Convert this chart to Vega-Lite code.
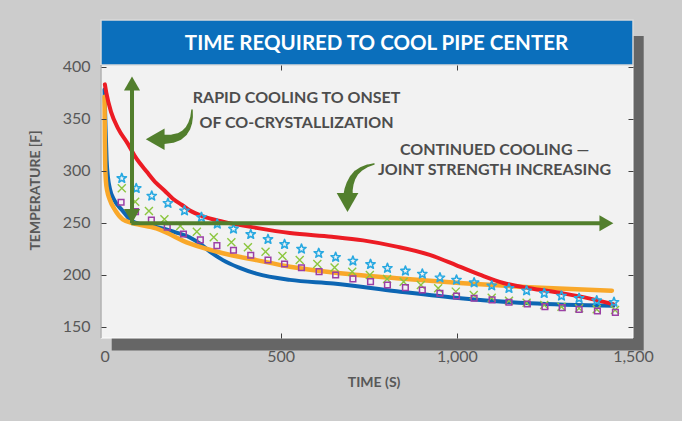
{
  "$schema": "https://vega.github.io/schema/vega-lite/v6.json",
  "width": 532,
  "height": 318,
  "autosize": {"type": "none"},
  "padding": {"left": 101, "top": 20, "right": 49, "bottom": 83},
  "background": "#cccccc",
  "config": {"view": {"stroke": null}, "font": "Lato"},
  "datasets": {
    "one": [{}],
    "lines": [
      {"s": "blue", "t": 0, "T": 378}, {"s": "blue", "t": 3, "T": 340}, {"s": "blue", "t": 6, "T": 310}, {"s": "blue", "t": 10, "T": 293}, {"s": "blue", "t": 15, "T": 283}, {"s": "blue", "t": 29, "T": 271}, {"s": "blue", "t": 50, "T": 262}, {"s": "blue", "t": 76, "T": 252}, {"s": "blue", "t": 110, "T": 248}, {"s": "blue", "t": 147, "T": 246}, {"s": "blue", "t": 200, "T": 241}, {"s": "blue", "t": 241, "T": 236}, {"s": "blue", "t": 270, "T": 230}, {"s": "blue", "t": 300, "T": 222}, {"s": "blue", "t": 336, "T": 214}, {"s": "blue", "t": 380, "T": 207}, {"s": "blue", "t": 431, "T": 201}, {"s": "blue", "t": 526, "T": 195}, {"s": "blue", "t": 650, "T": 191.5}, {"s": "blue", "t": 829, "T": 184}, {"s": "blue", "t": 1018, "T": 177}, {"s": "blue", "t": 1207, "T": 172.5}, {"s": "blue", "t": 1444, "T": 170},
      {"s": "orange", "t": 0, "T": 371}, {"s": "orange", "t": 1, "T": 330}, {"s": "orange", "t": 2, "T": 305}, {"s": "orange", "t": 4, "T": 290}, {"s": "orange", "t": 8, "T": 280}, {"s": "orange", "t": 14, "T": 273}, {"s": "orange", "t": 30, "T": 262}, {"s": "orange", "t": 52, "T": 253}, {"s": "orange", "t": 80, "T": 249.5}, {"s": "orange", "t": 147, "T": 244.5}, {"s": "orange", "t": 241, "T": 230}, {"s": "orange", "t": 336, "T": 220.6}, {"s": "orange", "t": 431, "T": 214}, {"s": "orange", "t": 526, "T": 207.7}, {"s": "orange", "t": 650, "T": 202}, {"s": "orange", "t": 829, "T": 196.5}, {"s": "orange", "t": 1018, "T": 191.7}, {"s": "orange", "t": 1207, "T": 188}, {"s": "orange", "t": 1440, "T": 184.6},
      {"s": "red", "t": 1, "T": 383}, {"s": "red", "t": 5, "T": 375}, {"s": "red", "t": 19, "T": 356}, {"s": "red", "t": 38, "T": 341}, {"s": "red", "t": 66, "T": 326}, {"s": "red", "t": 88, "T": 313}, {"s": "red", "t": 120, "T": 299}, {"s": "red", "t": 147, "T": 288}, {"s": "red", "t": 170, "T": 281}, {"s": "red", "t": 194, "T": 273}, {"s": "red", "t": 220, "T": 267}, {"s": "red", "t": 241, "T": 262}, {"s": "red", "t": 280, "T": 256}, {"s": "red", "t": 336, "T": 251}, {"s": "red", "t": 431, "T": 245}, {"s": "red", "t": 526, "T": 240}, {"s": "red", "t": 645, "T": 236.5}, {"s": "red", "t": 734, "T": 233}, {"s": "red", "t": 829, "T": 227}, {"s": "red", "t": 923, "T": 219}, {"s": "red", "t": 999, "T": 209}, {"s": "red", "t": 1065, "T": 200}, {"s": "red", "t": 1132, "T": 192}, {"s": "red", "t": 1207, "T": 187}, {"s": "red", "t": 1302, "T": 182}, {"s": "red", "t": 1378, "T": 177}, {"s": "red", "t": 1444, "T": 171.5}
    ],
    "markers": [
      {"m": "star", "t": 49, "T": 292.7}, {"m": "star", "t": 90, "T": 283}, {"m": "star", "t": 134, "T": 275.7}, {"m": "star", "t": 180, "T": 268.7}, {"m": "star", "t": 227, "T": 261.5}, {"m": "star", "t": 275, "T": 255.2}, {"m": "star", "t": 320, "T": 248.8}, {"m": "star", "t": 366, "T": 244}, {"m": "star", "t": 415, "T": 238.8}, {"m": "star", "t": 464, "T": 234}, {"m": "star", "t": 511, "T": 229.2}, {"m": "star", "t": 559, "T": 224.7}, {"m": "star", "t": 608, "T": 220.6}, {"m": "star", "t": 656, "T": 216.8}, {"m": "star", "t": 705, "T": 213.2}, {"m": "star", "t": 755, "T": 210}, {"m": "star", "t": 803, "T": 206.2}, {"m": "star", "t": 854, "T": 203.6}, {"m": "star", "t": 902, "T": 200.7}, {"m": "star", "t": 952, "T": 197.1}, {"m": "star", "t": 999, "T": 194.9}, {"m": "star", "t": 1049, "T": 192.3}, {"m": "star", "t": 1099, "T": 189.4}, {"m": "star", "t": 1148, "T": 186.9}, {"m": "star", "t": 1198, "T": 184.6}, {"m": "star", "t": 1248, "T": 182.1}, {"m": "star", "t": 1297, "T": 179.5}, {"m": "star", "t": 1347, "T": 177.3}, {"m": "star", "t": 1397, "T": 175}, {"m": "star", "t": 1446, "T": 173.5},
      {"m": "x", "t": 49, "T": 283}, {"m": "x", "t": 87, "T": 270.2}, {"m": "x", "t": 126, "T": 261.3}, {"m": "x", "t": 170, "T": 253.3}, {"m": "x", "t": 215, "T": 246.8}, {"m": "x", "t": 262, "T": 241.3}, {"m": "x", "t": 310, "T": 236}, {"m": "x", "t": 360, "T": 231.2}, {"m": "x", "t": 407, "T": 226.3}, {"m": "x", "t": 457, "T": 222.1}, {"m": "x", "t": 505, "T": 218}, {"m": "x", "t": 554, "T": 214.1}, {"m": "x", "t": 604, "T": 210.3}, {"m": "x", "t": 653, "T": 207}, {"m": "x", "t": 703, "T": 202.9}, {"m": "x", "t": 753, "T": 199.7}, {"m": "x", "t": 802, "T": 195.9}, {"m": "x", "t": 849, "T": 193.3}, {"m": "x", "t": 898, "T": 190.1}, {"m": "x", "t": 947, "T": 186.9}, {"m": "x", "t": 997, "T": 183.7}, {"m": "x", "t": 1048, "T": 180.5}, {"m": "x", "t": 1099, "T": 177.9}, {"m": "x", "t": 1148, "T": 175}, {"m": "x", "t": 1198, "T": 173.1}, {"m": "x", "t": 1248, "T": 170.9}, {"m": "x", "t": 1297, "T": 169.2}, {"m": "x", "t": 1347, "T": 167.7}, {"m": "x", "t": 1397, "T": 166.7}, {"m": "x", "t": 1449, "T": 166},
      {"m": "square", "t": 47, "T": 269.6}, {"m": "square", "t": 88, "T": 260.6}, {"m": "square", "t": 133, "T": 252.6}, {"m": "square", "t": 178, "T": 245.6}, {"m": "square", "t": 224, "T": 239.1}, {"m": "square", "t": 272, "T": 233.4}, {"m": "square", "t": 319, "T": 227.9}, {"m": "square", "t": 366, "T": 223.5}, {"m": "square", "t": 415, "T": 218.7}, {"m": "square", "t": 464, "T": 214.1}, {"m": "square", "t": 511, "T": 210.3}, {"m": "square", "t": 559, "T": 206.7}, {"m": "square", "t": 609, "T": 202.9}, {"m": "square", "t": 656, "T": 199.7}, {"m": "square", "t": 705, "T": 195.9}, {"m": "square", "t": 755, "T": 193.3}, {"m": "square", "t": 803, "T": 190.1}, {"m": "square", "t": 854, "T": 187.5}, {"m": "square", "t": 902, "T": 185.3}, {"m": "square", "t": 952, "T": 182.1}, {"m": "square", "t": 999, "T": 179.5}, {"m": "square", "t": 1049, "T": 177.3}, {"m": "square", "t": 1100, "T": 175.7}, {"m": "square", "t": 1148, "T": 173.5}, {"m": "square", "t": 1200, "T": 171.8}, {"m": "square", "t": 1250, "T": 169.2}, {"m": "square", "t": 1299, "T": 168.3}, {"m": "square", "t": 1347, "T": 166.7}, {"m": "square", "t": 1399, "T": 165.1}, {"m": "square", "t": 1450, "T": 163.8}
    ],
    "curves": [
      {"a": "a1", "k": 0, "t": 248.3, "T": 358.4}, {"a": "a1", "k": 1, "t": 247.1, "T": 351.6}, {"a": "a1", "k": 2, "t": 243.2, "T": 345.9}, {"a": "a1", "k": 3, "t": 236.4, "T": 340.6}, {"a": "a1", "k": 4, "t": 226.4, "T": 336.3}, {"a": "a1", "k": 5, "t": 212.8, "T": 332.9}, {"a": "a1", "k": 6, "t": 194.3, "T": 330.9}, {"a": "a1", "k": 7, "t": 163.1, "T": 330.0},
      {"a": "a2", "k": 0, "t": 764.9, "T": 306.4}, {"a": "a2", "k": 1, "t": 745.0, "T": 304.5}, {"a": "a2", "k": 2, "t": 728.0, "T": 301.6}, {"a": "a2", "k": 3, "t": 713.8, "T": 297.8}, {"a": "a2", "k": 4, "t": 703.9, "T": 293.0}, {"a": "a2", "k": 5, "t": 696.8, "T": 287.2}, {"a": "a2", "k": 6, "t": 692.5, "T": 281.4}, {"a": "a2", "k": 7, "t": 691.1, "T": 275.7}
    ],
    "heads": [
      {"dir": "up", "kind": "straight", "t": 78, "T": 383.8},
      {"dir": "down", "kind": "straight", "t": 78, "T": 256.5},
      {"dir": "right", "kind": "straight", "t": 1424.5, "T": 249.4},
      {"dir": "left", "kind": "curved", "t": 143.8, "T": 330.2},
      {"dir": "down", "kind": "curved", "t": 689.7, "T": 269.4}
    ],
    "notes": [
      {"t": 545, "T": 369.6, "label": "RAPID COOLING TO ONSET"},
      {"t": 545, "T": 346.2, "label": "OF CO-CRYSTALLIZATION"},
      {"t": 1107, "T": 319.9, "label": "CONTINUED COOLING —"},
      {"t": 1107, "T": 300.7, "label": "JOINT STRENGTH INCREASING"}
    ]
  },
  "resolve": {"axis": {"x": "independent", "y": "independent"}},
  "layer": [
    {
      "data": {"name": "one"},
      "mark": {"type": "rect", "fill": "#666666"},
      "encoding": {
        "x": {"datum": 20.4, "type": "quantitative", "scale": {"domain": [-10, 1500], "nice": false, "zero": false}, "axis": null},
        "x2": {"datum": 1530.4},
        "y": {"datum": 127.1, "type": "quantitative", "scale": {"domain": [139.1, 444.9], "nice": false, "zero": false}, "axis": null},
        "y2": {"datum": 429.5}
      }
    },
    {
      "data": {"name": "one"},
      "mark": {"type": "rect", "fill": "#f2f2f2", "stroke": "#ffffff", "strokeWidth": 1},
      "encoding": {
        "x": {"datum": -10, "type": "quantitative", "scale": {"domain": [-10, 1500], "nice": false, "zero": false}, "axis": null},
        "x2": {"datum": 1500},
        "y": {"datum": 139.1, "type": "quantitative", "scale": {"domain": [139.1, 444.9], "nice": false, "zero": false}, "axis": null},
        "y2": {"datum": 401.6}
      }
    },
    {
      "data": {"name": "one"},
      "mark": {"type": "rect", "fill": "#0b6fbc", "stroke": "#d9d9d9", "strokeWidth": 1.5},
      "encoding": {
        "x": {"datum": -10, "type": "quantitative", "scale": {"domain": [-10, 1500], "nice": false, "zero": false}, "axis": null},
        "x2": {"datum": 1500},
        "y": {"datum": 401.6, "type": "quantitative", "scale": {"domain": [139.1, 444.9], "nice": false, "zero": false}, "axis": null},
        "y2": {"datum": 444.9}
      }
    },
    {
      "data": {"name": "one"},
      "mark": {"type": "text", "text": "TIME REQUIRED TO COOL PIPE CENTER", "color": "#ffffff", "font": "Lato", "fontSize": 20.5, "fontWeight": "bold", "align": "center", "baseline": "middle"},
      "encoding": {
        "x": {"datum": 772, "type": "quantitative", "scale": {"domain": [-10, 1500], "nice": false, "zero": false}, "axis": null},
        "y": {"datum": 421.6, "type": "quantitative", "scale": {"domain": [139.1, 444.9], "nice": false, "zero": false}, "axis": null}
      }
    },
    {
      "data": {"name": "one"},
      "mark": {"type": "rule", "color": "#8c8c8c", "strokeWidth": 1},
      "encoding": {
        "x": {"datum": -10, "type": "quantitative", "scale": {"domain": [-10, 1500], "nice": false, "zero": false}, "axis": null},
        "y": {"datum": 139.1, "type": "quantitative", "scale": {"domain": [139.1, 444.9], "nice": false, "zero": false}, "axis": null},
        "y2": {"datum": 401.6}
      }
    },
    {
      "data": {"name": "lines"},
      "transform": [{"filter": "datum.s == 'blue'"}],
      "mark": {"type": "line", "color": "#0d66b3", "strokeWidth": 4, "interpolate": "monotone", "strokeCap": "round"},
      "encoding": {
        "x": {"field": "t", "type": "quantitative", "scale": {"domain": [-10, 1500], "nice": false, "zero": false},
          "axis": {"orient": "bottom", "values": [0, 500, 1000, 1500], "format": ",d", "title": "TIME (S)", "domain": false, "grid": false, "tickSize": 5, "offset": -5,
            "tickColor": {"condition": {"test": "datum.value == 500 || datum.value == 1000", "value": "#404040"}, "value": "transparent"},
            "labelPadding": 10, "labelFont": "Lato", "labelFontSize": 16, "labelColor": "#585858", "labelFlush": false,
            "titleFont": "Lato", "titleFontSize": 14, "titleFontWeight": "bold", "titleColor": "#585858", "titleX": 272.6, "titleY": 49, "titleAlign": "center", "titleBaseline": "middle", "zindex": 1}},
        "y": {"field": "T", "type": "quantitative", "scale": {"domain": [139.1, 444.9], "nice": false, "zero": false},
          "axis": {"orient": "left", "values": [150, 200, 250, 300, 350, 400], "title": "TEMPERATURE [F]", "domain": false, "grid": false, "tickSize": 5, "offset": -5, "tickColor": "#404040",
            "labelPadding": 11, "labelFont": "Lato", "labelFontSize": 16, "labelColor": "#585858",
            "titleFont": "Lato", "titleFontSize": 14, "titleFontWeight": "bold", "titleColor": "#585858", "titleX": -71, "titleY": 170, "titleAngle": -90, "titleAlign": "center", "titleBaseline": "middle", "zindex": 1}}
      }
    },
    {
      "data": {"name": "lines"},
      "transform": [{"filter": "datum.s == 'orange'"}],
      "mark": {"type": "line", "color": "#f9a82a", "strokeWidth": 4.5, "interpolate": "monotone", "strokeCap": "round"},
      "encoding": {
        "x": {"field": "t", "type": "quantitative", "scale": {"domain": [-10, 1500], "nice": false, "zero": false},
          "axis": {"orient": "top", "values": [500, 1000], "labels": false, "title": null, "domain": false, "grid": false, "tickSize": 5, "tickColor": "#404040", "offset": -50, "zindex": 1}},
        "y": {"field": "T", "type": "quantitative", "scale": {"domain": [139.1, 444.9], "nice": false, "zero": false},
          "axis": {"orient": "right", "values": [150, 200, 250, 300, 350, 400], "labels": false, "title": null, "domain": false, "grid": false, "tickSize": 5, "offset": -5, "tickColor": "#404040", "zindex": 1}}
      }
    },
    {
      "data": {"name": "lines"},
      "transform": [{"filter": "datum.s == 'red'"}],
      "mark": {"type": "line", "color": "#ec1c24", "strokeWidth": 4, "interpolate": "monotone", "strokeCap": "round"},
      "encoding": {
        "x": {"field": "t", "type": "quantitative", "scale": {"domain": [-10, 1500], "nice": false, "zero": false}, "axis": null},
        "y": {"field": "T", "type": "quantitative", "scale": {"domain": [139.1, 444.9], "nice": false, "zero": false}, "axis": null}
      }
    },
    {
      "data": {"name": "markers"},
      "transform": [{"filter": "datum.m == 'star'"}],
      "mark": {"type": "point", "shape": "M0,-1L0.247,-0.34L0.951,-0.309L0.399,0.13L0.588,0.809L0,0.42L-0.588,0.809L-0.399,0.13L-0.951,-0.309L-0.247,-0.34Z", "filled": false, "color": "#29a9e1", "strokeWidth": 1.6, "strokeJoin": "round", "size": 95, "opacity": 1},
      "encoding": {
        "x": {"field": "t", "type": "quantitative", "scale": {"domain": [-10, 1500], "nice": false, "zero": false}, "axis": null},
        "y": {"field": "T", "type": "quantitative", "scale": {"domain": [139.1, 444.9], "nice": false, "zero": false}, "axis": null}
      }
    },
    {
      "data": {"name": "markers"},
      "transform": [{"filter": "datum.m == 'x'"}],
      "mark": {"type": "point", "shape": "M-1,-1L1,1M-1,1L1,-1", "filled": false, "color": "#8cc63f", "strokeWidth": 1.4, "size": 64, "opacity": 1},
      "encoding": {
        "x": {"field": "t", "type": "quantitative", "scale": {"domain": [-10, 1500], "nice": false, "zero": false}, "axis": null},
        "y": {"field": "T", "type": "quantitative", "scale": {"domain": [139.1, 444.9], "nice": false, "zero": false}, "axis": null}
      }
    },
    {
      "data": {"name": "markers"},
      "transform": [{"filter": "datum.m == 'square'"}],
      "mark": {"type": "point", "shape": "square", "filled": false, "color": "#9b3fa6", "strokeWidth": 1.5, "size": 32, "opacity": 1},
      "encoding": {
        "x": {"field": "t", "type": "quantitative", "scale": {"domain": [-10, 1500], "nice": false, "zero": false}, "axis": null},
        "y": {"field": "T", "type": "quantitative", "scale": {"domain": [139.1, 444.9], "nice": false, "zero": false}, "axis": null}
      }
    },
    {
      "data": {"name": "one"},
      "mark": {"type": "rule", "color": "#527f2d", "strokeWidth": 4},
      "encoding": {
        "x": {"datum": 78, "type": "quantitative", "scale": {"domain": [-10, 1500], "nice": false, "zero": false}, "axis": null},
        "y": {"datum": 249.4, "type": "quantitative", "scale": {"domain": [139.1, 444.9], "nice": false, "zero": false}, "axis": null},
        "y2": {"datum": 382}
      }
    },
    {
      "data": {"name": "one"},
      "mark": {"type": "rule", "color": "#527f2d", "strokeWidth": 4},
      "encoding": {
        "x": {"datum": 76, "type": "quantitative", "scale": {"domain": [-10, 1500], "nice": false, "zero": false}, "axis": null},
        "x2": {"datum": 1425},
        "y": {"datum": 249.4, "type": "quantitative", "scale": {"domain": [139.1, 444.9], "nice": false, "zero": false}, "axis": null}
      }
    },
    {
      "data": {"name": "curves"},
      "mark": {"type": "trail", "color": "#527f2d"},
      "encoding": {
        "x": {"field": "t", "type": "quantitative", "scale": {"domain": [-10, 1500], "nice": false, "zero": false}, "axis": null},
        "y": {"field": "T", "type": "quantitative", "scale": {"domain": [139.1, 444.9], "nice": false, "zero": false}, "axis": null},
        "detail": {"field": "a", "type": "nominal"},
        "order": {"field": "k", "type": "quantitative"},
        "size": {"field": "k", "type": "quantitative", "scale": {"domain": [0, 7], "range": [1.5, 9.5]}, "legend": null}
      }
    },
    {
      "data": {"name": "heads"},
      "transform": [{"filter": "datum.kind == 'straight'"}],
      "mark": {"type": "point", "filled": true, "color": "#527f2d", "size": 260, "opacity": 1},
      "encoding": {
        "x": {"field": "t", "type": "quantitative", "scale": {"domain": [-10, 1500], "nice": false, "zero": false}, "axis": null},
        "y": {"field": "T", "type": "quantitative", "scale": {"domain": [139.1, 444.9], "nice": false, "zero": false}, "axis": null},
        "shape": {"field": "dir", "type": "nominal", "scale": {"domain": ["up", "down", "right", "left"], "range": ["triangle-up", "triangle-down", "triangle-right", "triangle-left"]}, "legend": null}
      }
    },
    {
      "data": {"name": "heads"},
      "transform": [{"filter": "datum.kind == 'curved'"}],
      "mark": {"type": "point", "filled": true, "color": "#527f2d", "size": 470, "opacity": 1},
      "encoding": {
        "x": {"field": "t", "type": "quantitative", "scale": {"domain": [-10, 1500], "nice": false, "zero": false}, "axis": null},
        "y": {"field": "T", "type": "quantitative", "scale": {"domain": [139.1, 444.9], "nice": false, "zero": false}, "axis": null},
        "shape": {"field": "dir", "type": "nominal", "scale": {"domain": ["up", "down", "right", "left"], "range": ["triangle-up", "triangle-down", "triangle-right", "triangle-left"]}, "legend": null}
      }
    },
    {
      "data": {"name": "notes"},
      "mark": {"type": "text", "font": "Lato", "fontSize": 16, "fontWeight": "bold", "color": "#4d4d4d", "align": "center", "baseline": "middle"},
      "encoding": {
        "x": {"field": "t", "type": "quantitative", "scale": {"domain": [-10, 1500], "nice": false, "zero": false}, "axis": null},
        "y": {"field": "T", "type": "quantitative", "scale": {"domain": [139.1, 444.9], "nice": false, "zero": false}, "axis": null},
        "text": {"field": "label", "type": "nominal"}
      }
    }
  ]
}
